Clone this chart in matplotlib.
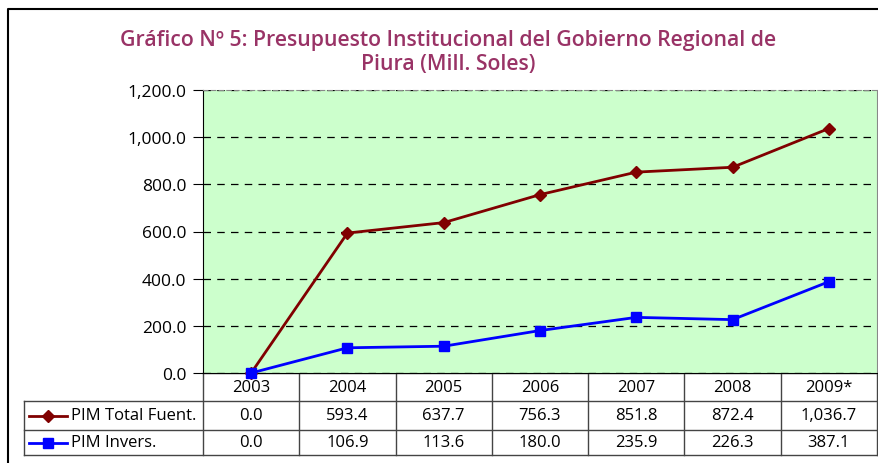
import matplotlib
matplotlib.use("Agg")
import matplotlib.pyplot as plt
from matplotlib.ticker import FuncFormatter
from matplotlib.lines import Line2D

years = ["2003", "2004", "2005", "2006", "2007", "2008", "2009*"]
pim_total = [0.0, 593.4, 637.7, 756.3, 851.8, 872.4, 1036.7]
pim_invers = [0.0, 106.9, 113.6, 180.0, 235.9, 226.3, 387.1]
series_names = ["PIM Total Fuent.", "PIM Invers."]
title = "Gráfico Nº 5: Presupuesto Institucional del Gobierno Regional de\nPiura (Mill. Soles)"

plt.rcParams['font.family'] = ['Open Sans', 'DejaVu Sans']

W, H = 879, 464
fig = plt.figure(figsize=(W / 100, H / 100), dpi=100)

# overlay axes in pixel coords
ov = fig.add_axes([0, 0, 1, 1])
ov.set_xlim(0, W)
ov.set_ylim(H, 0)
ov.axis("off")

# plot area
px0, px1, py0, py1 = 203, 877, 91, 374
ax = fig.add_axes([px0 / W, (H - py1) / H, (px1 - px0) / W, (py1 - py0) / H])
ax.set_facecolor("#CCFFCC")
ax.set_xlim(-0.5, len(years) - 0.5)
ax.set_ylim(0, 1200)
ax.set_yticks(range(0, 1201, 200))
ax.yaxis.set_major_formatter(FuncFormatter(lambda v, p: f"{v:,.1f}"))
ax.tick_params(axis="y", direction="out", length=7, labelsize=12.5, pad=5)
ax.set_xticks([])
ax.grid(axis="y", color="black", linestyle=(0, (6, 5)), linewidth=0.9)
for s in ["top", "right"]:
    ax.spines[s].set_color("#888888")
ax.spines["top"].set_linestyle((0, (4, 3)))
ax.spines["left"].set_color("black")
ax.spines["bottom"].set_color("black")

x = list(range(len(years)))
ax.plot(x, pim_total, color="#800000", marker="D", markersize=6, linewidth=2, clip_on=False, zorder=3)
ax.plot(x, pim_invers, color="#0000FF", marker="s", markersize=7, linewidth=2, clip_on=False, zorder=3)

# title
fig.text(448 / W, 1 - 30 / H, title, ha="center", va="top", fontsize=15.3,
         color="#993366", linespacing=1.2, fontweight="semibold")

# outer frame
ov.plot([8, 8, W + 5], [H + 5, 10, 10], color="black", linewidth=1.5, clip_on=False)

# data table
colw = (px1 - px0) / len(years)
tl = 24
r0, r1, r2, r3 = 374, 402, 431, 456
lc = "#444444"
ov.plot([px0, px1], [r0, r0], color=lc, lw=1)
for yy in (r1, r2, r3):
    ov.plot([tl, px1], [yy, yy], color=lc, lw=1)
ov.plot([tl, tl], [r1, r3], color=lc, lw=1)
for i in range(len(years) + 1):
    ov.plot([px0 + i * colw] * 2, [r0, r3], color=lc, lw=1)

fs = 12
for i, yr in enumerate(years):
    cx = px0 + (i + 0.5) * colw
    ov.text(cx, (r0 + r1) / 2, yr, ha="center", va="center", fontsize=fs)
    ov.text(cx, (r1 + r2) / 2, f"{pim_total[i]:,.1f}", ha="center", va="center", fontsize=fs)
    ov.text(cx, (r2 + r3) / 2, f"{pim_invers[i]:,.1f}", ha="center", va="center", fontsize=fs)

styles = [("#800000", "D", 6), ("#0000FF", "s", 7)]
for (c, m, ms), name, (ya, yb) in zip(styles, series_names, [(r1, r2), (r2, r3)]):
    yc = (ya + yb) / 2
    ov.add_line(Line2D([29, 67], [yc, yc], color=c, lw=2))
    ov.plot([48], [yc], marker=m, color=c, markersize=ms)
    ov.text(71, yc, name, ha="left", va="center", fontsize=fs)

fig.savefig("out.png", dpi=100)
